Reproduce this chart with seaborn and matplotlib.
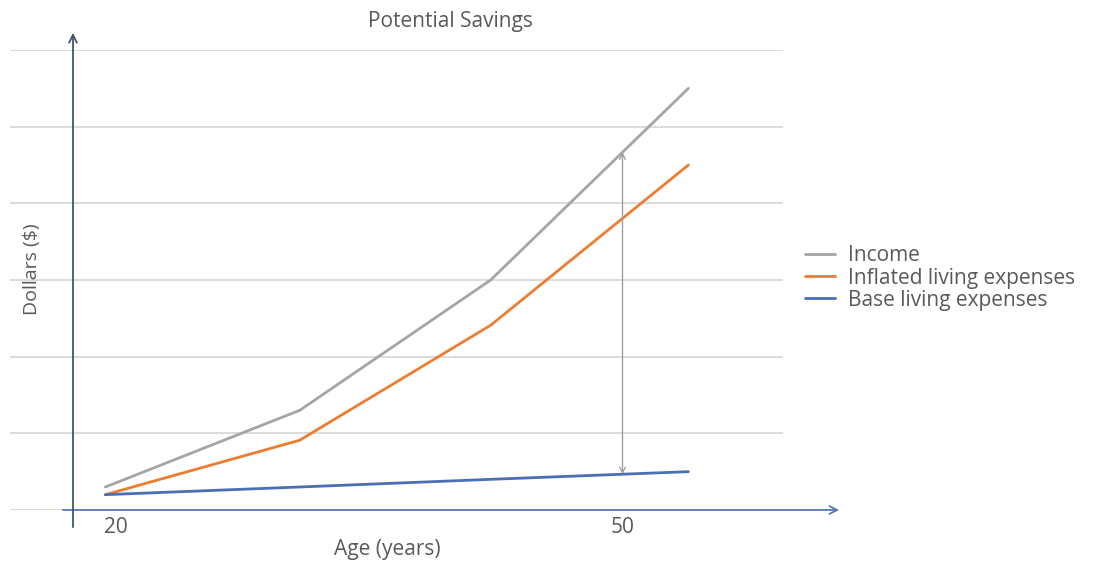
import numpy as np
import pandas as pd
import matplotlib
matplotlib.use("Agg")
import matplotlib.pyplot as plt
import seaborn as sns

# Ages at which the lines bend (years) and values in arbitrary dollar units
ages = [19.4, 30.9, 42.2, 53.9]
income = [0.30, 1.30, 3.00, 5.50]
inflated_expenses = [0.20, 0.91, 2.41, 4.50]
base_expenses = [0.20, 0.30, 0.40, 0.50]

series_names = ["Income", "Inflated living expenses", "Base living expenses"]
series_colors = ["#A5A5A5", "#ED7D31", "#4A6FB5"]
tick_ages = [20, 50]
tick_labels = ["20", "50"]
gap_age = 50

df = pd.DataFrame({
    "Age": ages * 3,
    "Dollars": income + inflated_expenses + base_expenses,
    "Series": [series_names[0]] * 4 + [series_names[1]] * 4 + [series_names[2]] * 4,
})

sns.set_theme(style="white")
plt.rcParams["font.family"] = ["Open Sans", "DejaVu Sans"]
text_color = "#595959"
fs = 15

W, H = 1097, 563
fig = plt.figure(figsize=(W / 100, H / 100), dpi=100)
ax = fig.add_axes([10 / W, (H - 510) / H, 773 / W, 460 / H])

sns.lineplot(data=df, x="Age", y="Dollars", hue="Series", hue_order=series_names,
             palette=series_colors, linewidth=2.0, ax=ax, legend=True)

ax.set_xlim(13.757, 59.497)
ax.set_ylim(0, 6)
ax.set_yticks(range(0, 7))
ax.set_yticklabels([])
ax.tick_params(axis="y", length=0)
ax.yaxis.grid(True, color="#D9D9D9", linewidth=1.3)
ax.set_axisbelow(True)
for s in ax.spines.values():
    s.set_visible(False)

ax.set_xticks(tick_ages)
ax.set_xticklabels(tick_labels, fontsize=fs, color=text_color)
ax.tick_params(axis="x", length=0, pad=5)

ax.set_xlabel("Age (years)", fontsize=fs, color=text_color)
ax.xaxis.set_label_coords((387 - 10) / 773, -29 / 460)
ax.set_ylabel("")
fig.text(32 / W, 1 - 269 / H, "Dollars ($)", rotation=90, ha="center", va="center",
         fontsize=14, color=text_color)
fig.text(450 / W, 1 - 22 / H, "Potential Savings", ha="center", va="center",
         fontsize=fs, color=text_color)

# Axis arrows
ax.annotate("", xy=(62.988, 0), xytext=(16.716, 0), annotation_clip=False,
            arrowprops=dict(arrowstyle="->", color="#5A78B0", lw=1.3, mutation_scale=14))
ax.annotate("", xy=(17.485, 6.26), xytext=(17.485, -0.26), annotation_clip=False,
            arrowprops=dict(arrowstyle="->", color="#44546A", lw=1.3, mutation_scale=14))

# Savings gap between income and base expenses
top = np.interp(gap_age, ages, income)
bottom = np.interp(gap_age, ages, base_expenses)
ax.annotate("", xy=(gap_age, top), xytext=(gap_age, bottom),
            arrowprops=dict(arrowstyle="<->", color="#A0A0A0", lw=1.0, mutation_scale=10,
                            shrinkA=0, shrinkB=0))

leg = ax.legend(loc="center left", bbox_to_anchor=(786 / W, 1 - 278 / H),
                bbox_transform=fig.transFigure, frameon=False, fontsize=fs,
                handlelength=1.44, handletextpad=0.63, labelspacing=0.05, title=None)
for t in leg.get_texts():
    t.set_color(text_color)

fig.savefig("out.png", dpi=100)
